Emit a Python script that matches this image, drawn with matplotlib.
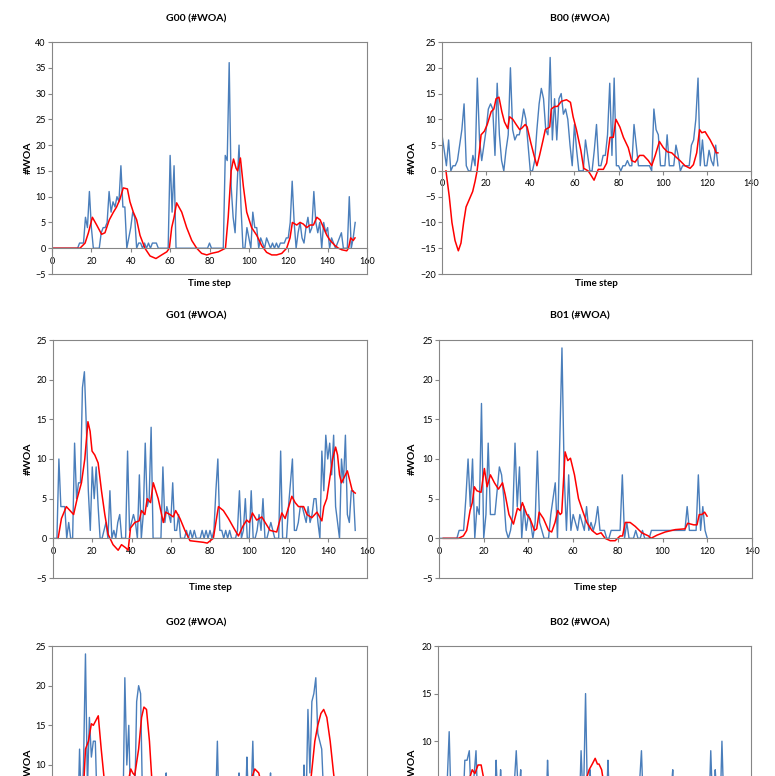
import numpy as np
import matplotlib.pyplot as plt

plt.rcParams['font.family'] = ['Lato', 'DejaVu Sans']

# ---- data ----
# blue: #WOA per time step, starting at step 0
g00_blue = [0, 0, 0, 0, 0, 0, 0, 0, 0, 0,
            0, 0, 0, 0, 1, 1, 1, 6, 4, 11,
            4, 0, 0, 0, 0, 3, 4, 4, 5, 11,
            7, 9, 8, 10, 9, 16, 8, 8, 0, 2,
            4, 7, 6, 0, 1, 1, 0, 1, 0, 1,
            0, 1, 1, 1, 0, 0, 0, 0, 0, 0,
            18, 7, 16, 0, 0, 0, 0, 0, 0, 0,
            0, 0, 0, 0, 0, 0, 0, 0, 0, 0,
            1, 0, 0, 0, 0, 0, 0, 0, 18, 17,
            36, 12, 6, 3, 12, 20, 8, 0, 0, 4,
            2, 0, 7, 4, 4, 0, 2, 1, 0, 2,
            1, 0, 1, 0, 1, 0, 1, 1, 1, 2,
            2, 5, 13, 5, 0, 3, 5, 2, 1, 4,
            6, 3, 4, 11, 5, 3, 5, 0, 5, 3,
            4, 0, 2, 1, 0, 1, 2, 3, 0, 0,
            0, 10, 0, 2, 5]

b00_blue = [7, 4, 1, 6, 0, 1, 1, 2, 5, 8,
            13, 1, 0, 0, 3, 1, 18, 6, 2, 5,
            8, 12, 13, 12, 3, 17, 7, 2, 0, 4,
            7, 20, 8, 6, 7, 7, 9, 12, 10, 5,
            0, 0, 2, 8, 13, 16, 14, 8, 7, 22,
            6, 14, 6, 14, 15, 11, 12, 10, 5, 1,
            9, 4, 0, 0, 0, 6, 3, 0, 0, 4,
            9, 1, 1, 3, 3, 7, 17, 3, 18, 1,
            1, 0, 1, 1, 2, 1, 1, 9, 5, 1,
            1, 1, 1, 1, 1, 0, 12, 8, 7, 1,
            1, 1, 7, 1, 1, 1, 5, 3, 0, 1,
            1, 1, 1, 5, 6, 10, 18, 1, 6, 1,
            1, 4, 2, 1, 5, 1]

g01_blue = [0, 0, 0, 10, 4, 4, 4, 0, 2, 0,
            0, 12, 5, 7, 7, 19, 21, 14, 6, 1,
            9, 5, 9, 4, 0, 0, 1, 2, 0, 6,
            0, 1, 0, 2, 3, 0, 0, 0, 11, 1,
            2, 3, 2, 0, 8, 0, 3, 12, 4, 5,
            14, 0, 0, 0, 0, 0, 9, 2, 4, 3,
            2, 7, 1, 1, 3, 0, 0, 0, 1, 0,
            1, 0, 1, 0, 0, 0, 1, 0, 1, 0,
            1, 0, 1, 6, 10, 1, 1, 0, 1, 0,
            1, 0, 0, 0, 1, 6, 0, 1, 5, 0,
            0, 6, 0, 0, 1, 3, 1, 5, 0, 0,
            1, 2, 1, 0, 0, 0, 11, 0, 0, 0,
            4, 7, 10, 1, 1, 2, 4, 4, 3, 2,
            4, 2, 3, 5, 5, 2, 0, 11, 6, 13,
            10, 12, 8, 13, 4, 2, 0, 10, 7, 13,
            3, 2, 6, 6, 1]

b01_blue = [0, 0, 0, 0, 0, 0, 0, 0, 0, 1,
            1, 1, 5, 10, 4, 10, 0, 4, 3, 17,
            0, 3, 12, 3, 3, 3, 6, 9, 8, 5,
            1, 0, 1, 3, 12, 4, 9, 0, 4, 1,
            3, 2, 0, 2, 11, 2, 1, 0, 0, 0,
            3, 5, 7, 0, 12, 24, 8, 1, 8, 1,
            3, 2, 1, 3, 2, 1, 4, 1, 2, 1,
            2, 4, 1, 1, 1, 0, 0, 1, 1, 1,
            1, 1, 8, 0, 2, 0, 0, 0, 1, 0,
            0, 1, 0, 0, 0, 1, 1, 1, 1, 1,
            1, 1, 1, 1, 1, 1, 1, 1, 1, 1,
            1, 4, 1, 1, 1, 1, 8, 1, 4, 1,
            0]

g02_blue = [0, 0, 0, 0, 0, 0, 0, 0, 0, 1,
            0, 2, 0, 2, 12, 4, 10, 24, 7, 16,
            11, 13, 13, 4, 2, 5, 1, 3, 0, 2,
            4, 1, 3, 0, 2, 5, 3, 21, 10, 15,
            4, 6, 5, 18, 20, 19, 5, 3, 1, 4,
            2, 6, 1, 3, 5, 2, 7, 4, 9, 1,
            3, 2, 1, 0, 4, 2, 3, 1, 0, 2,
            1, 3, 0, 1, 2, 0, 1, 5, 2, 1,
            0, 3, 2, 4, 13, 2, 1, 0, 3, 1,
            4, 2, 1, 5, 2, 9, 3, 6, 2, 11,
            4, 5, 13, 3, 6, 2, 4, 1, 3, 2,
            5, 9, 2, 4, 1, 3, 2, 5, 1, 2,
            3, 1, 4, 2, 6, 1, 3, 2, 10, 4,
            17, 9, 18, 19, 21, 14, 13, 12, 6, 3,
            5, 2, 4, 1, 3, 6, 2, 1, 3, 4,
            2]

b02_blue = [0, 2, 0, 3, 5, 11, 2, 0, 3, 1,
            4, 2, 8, 8, 9, 3, 6, 9, 2, 4,
            1, 3, 0, 2, 4, 1, 8, 2, 7, 3,
            1, 2, 0, 3, 5, 9, 4, 7, 1, 2,
            0, 3, 1, 2, 0, 4, 1, 2, 0, 8,
            2, 1, 3, 0, 2, 1, 4, 2, 1, 3,
            0, 2, 4, 1, 9, 3, 15, 2, 7, 3,
            5, 2, 4, 1, 3, 0, 8, 2, 1, 3,
            0, 2, 1, 4, 1, 2, 0, 3, 1, 2,
            5, 9, 2, 1, 3, 0, 2, 1, 4, 2,
            1, 3, 0, 2, 4, 7, 1, 2, 0, 3,
            1, 2, 4, 0, 2, 1, 3, 0, 2, 5,
            3, 1, 9, 2, 7, 3, 1, 10, 2, 1,
            0]

# red: smoothed curve, (time step, value)
g00_red = [(0, 0), (14.2, 0), (16.8, 1), (18.5, 3), (20.5, 6), (22.7, 4.5), (25.2, 2.7),
           (26.9, 3), (29.1, 5.5), (31.2, 7), (32.8, 8), (34.5, 9.5), (36.2, 11.7), (38.3, 11.5),
           (39.6, 9), (41.3, 7), (43, 5.5), (44.7, 2.5), (47.2, 0), (49.8, -1.5), (52.8, -2),
           (55.7, -1.3), (58.3, -0.7), (59.6, 0), (60.8, 4), (62, 6), (63.3, 8.8), (65.9, 7),
           (68.4, 4), (71, 1.5), (73.5, 0), (76, -1), (78.6, -1.3), (81, -1), (84.5, -0.7),
           (88.1, 0), (89.5, 6), (91, 15), (92.2, 17.3), (93.5, 15.5), (94.3, 15), (95.7, 17.5),
           (97.2, 12), (98.9, 7), (101.4, 4), (104, 2.5), (106.5, 0.5), (109, -0.8), (111.6, -1.3),
           (114.1, -1.3), (116.7, -1), (119.2, 0), (120.9, 2), (122.1, 5), (124.3, 4.5), (126, 5),
           (127.6, 4.7), (129.4, 4), (131.1, 4.5), (132.8, 4.5), (134.5, 6), (136.2, 5.5),
           (137.9, 4), (139.6, 2.5), (141.3, 1.5), (143.8, 0.5), (145.5, 0), (147.2, -0.3),
           (149.7, -0.5), (150.6, 0), (151.7, 2), (153, 1.5), (153.9, 2)]

b00_red = [(1.8, 0), (3.3, -5), (4.5, -10), (5.9, -13.5), (7.4, -15.5), (8.6, -14), (9.8, -10),
           (10.9, -7), (12.4, -5.5), (13.9, -4), (15, -2), (15.9, 0), (17, 4), (17.7, 7),
           (19.2, 7.7), (20.5, 9), (22.3, 11.5), (23.5, 12), (24.5, 14), (25.8, 14.3), (27.1, 11.5),
           (28.3, 9.5), (29.8, 8.2), (30.6, 10.5), (32.1, 10), (33.6, 9), (35.2, 8), (36.2, 8.3),
           (37.7, 9), (38.6, 8.5), (40.2, 5.5), (41.7, 3), (43, 1), (44.2, 3), (45.8, 6),
           (46.8, 8), (48.8, 8.5), (49.5, 12), (51.1, 12.5), (52.3, 12.5), (54.1, 13.5),
           (56.4, 13.8), (58.2, 13.3), (59.4, 10.5), (60.9, 8), (62.9, 4), (64.2, 0.5), (66.2, 0),
           (67, -0.5), (68.9, -1.8), (70.8, 0.3), (73.1, 0.3), (74.6, 1.5), (76.1, 6.5),
           (77.6, 6.5), (78.8, 10), (80.6, 8.5), (82.2, 6.5), (84.4, 4.5), (85.9, 2), (87.5, 1.7),
           (89.5, 3), (91.3, 3), (93.5, 2), (95, 1), (96.6, 3), (98.5, 5.7), (100.3, 4.5),
           (102.1, 3.7), (104.1, 3.5), (106, 2.7), (107.8, 2), (110.1, 1), (112.4, 0.5),
           (113.9, 1.2), (115.4, 3.5), (116.7, 8), (117.7, 7.4), (119.2, 7.6), (121.5, 6),
           (123.3, 4.5), (124.2, 3.5), (125, 3.5)]

g01_red = [(2.6, 0), (4.3, 2.5), (6.8, 4), (9.4, 3.3), (10.5, 3), (12.3, 5), (14.5, 7),
           (16.2, 10), (17.8, 14.7), (18.9, 13.5), (19.9, 11), (21.3, 10.5), (23, 9.5),
           (24.7, 6), (26.4, 3), (28.1, 0.5), (30.6, -0.8), (33.2, -1.5), (34.9, -0.8),
           (37.1, -1.2), (38.3, -1.5), (39.5, 1.3), (41.7, 2), (43.9, 2.2), (45.1, 3.5),
           (46.8, 3), (48, 5), (49.7, 4.5), (51.1, 7), (53.6, 5), (56.2, 2), (57.4, 3.3),
           (59.6, 3), (61.3, 2.7), (62.5, 3.5), (64.7, 2.5), (67.2, 1), (69.8, -0.3),
           (73.2, -0.4), (76.6, -0.5), (78.6, -0.6), (81.7, 0), (84.3, 4), (86.8, 3.5),
           (89.4, 2.5), (92.8, 1), (94.5, 0.3), (96.7, 1.5), (98.7, 2.3), (100.1, 2),
           (101.6, 3.2), (103.8, 2.3), (106.4, 2.7), (108.1, 2), (110.6, 1), (114, 0.8),
           (116.6, 3.2), (118.3, 2.5), (121.7, 5.3), (123.4, 4.5), (125.1, 4), (127.7, 4),
           (129.4, 3), (131.9, 2.6), (134.5, 3.3), (137, 2.2), (138, 4), (139.5, 5), (141, 7.5),
           (142.5, 10), (144, 11.5), (145, 10.5), (146, 8), (147, 7), (148, 7.5), (150, 8.5),
           (151.5, 7), (152.5, 6), (154, 5.7)]

b01_red = [(1.9, 0), (8.7, 0), (10.9, 0.3), (12.4, 1), (13.9, 3.5), (14.9, 4.5), (15.8, 6.5),
           (16.9, 6), (18.8, 5.8), (20.3, 8.8), (21.5, 6.5), (23, 8), (24.8, 7), (26.6, 6.2),
           (28.4, 7), (29.6, 5.5), (31.3, 3), (33.3, 1.8), (35.1, 3.8), (36.3, 3.5), (37.3, 4.5),
           (39.3, 3), (40.7, 2.5), (42.7, 1), (43.7, 1.2), (44.8, 3.3), (46.7, 2.5), (49, 1),
           (50.4, 0.8), (51.9, 2), (53.1, 3.5), (54.2, 3), (54.9, 3.2), (56.4, 10.9), (57.6, 9.8),
           (58.8, 10.1), (60.6, 8), (62.4, 5), (64.2, 3.5), (66.1, 2), (68.4, 1), (70.6, 0.5),
           (72.5, 0.7), (74.3, 0), (76.6, -0.3), (78.8, -0.3), (81, 0.3), (82.1, 0.3), (83.3, 2),
           (85.5, 2), (87.8, 1.5), (90.7, 0.7), (93.7, 0.3), (94.8, 0), (97.5, 0.4), (101.2, 0.8),
           (105.7, 1.1), (110.1, 1.2), (111.2, 1.9), (113.9, 1.7), (115.4, 1.7), (116.4, 3),
           (117.6, 3), (118.8, 3.3), (119.9, 2.8)]

g02_red = [(0, 0), (10, 0), (13, 2), (15, 4), (16, 7), (17, 12), (18.5, 13), (20, 15.2), (21, 15),
           (23.5, 16.2), (25, 12), (27, 7), (29, 4), (31, 2), (34, 1), (36, 3), (38, 7), (40, 9.5),
           (41, 9), (42, 8.7), (44, 12), (45.5, 16), (46.7, 17.3), (48, 17), (49.5, 13), (51, 7),
           (53, 4), (56, 3), (60, 4), (64, 2), (70, 1), (76, 1), (80, 2), (84, 5), (88, 4),
           (92, 3), (96, 5), (99, 7), (101, 8), (103, 9.5), (105, 9), (107, 7), (110, 5),
           (115, 4), (120, 3), (125, 3), (128, 5), (131, 7), (133.5, 13), (135, 15),
           (136.6, 16.5), (138, 17), (139.6, 16), (141.3, 13), (143, 9), (145, 5), (148, 3),
           (150, 3)]

b02_red = [(0, 0), (4, 2), (8, 4), (12, 5), (14, 6), (15.3, 7), (16.5, 6.6), (17.9, 7.5),
           (19.3, 7.5), (20.5, 6), (23, 4), (28, 3), (35, 4), (40, 3), (50, 3), (60, 4), (65, 5),
           (67.6, 7), (69, 7.6), (70.3, 8.2), (71.3, 7.6), (72, 7.6), (73.2, 7), (74.5, 5),
           (78, 3), (85, 2), (92, 3), (100, 2), (110, 2), (120, 3), (126, 4), (130, 3)]

titles = ['G00 (#WOA)', 'B00 (#WOA)', 'G01 (#WOA)', 'B01 (#WOA)', 'G02 (#WOA)', 'B02 (#WOA)']

# ---- layout (pixels of the 775x776 picture) ----
W, H = 775, 776
fig = plt.figure(figsize=(W / 100, H / 100), dpi=100)

gray = '#868686'
blue_c = '#4a7ebb'
red_c = '#ff0000'

# plot-area boxes: left, top, right, bottom ; x max ; y range
boxes = [(52, 42, 367, 274), (442, 42, 751, 274),
         (53, 340, 367, 578), (439, 340, 752, 578),
         (52, 646, 367, 884), (438, 646, 751, 884)]
xmaxes = [160, 140, 160, 140, 160, 140]
yranges = [(-5, 40), (-20, 25), (-5, 25), (-5, 25), (-5, 25), (-5, 20)]
blues = [g00_blue, b00_blue, g01_blue, b01_blue, g02_blue, b02_blue]
reds = [g00_red, b00_red, g01_red, b01_red, g02_red, b02_red]
title_y = [19, 19, 316, 316, 623, 623]
title_x = [196, 580]
ylab_x = [28, 412]

for i in range(6):
    l, t, r, b = boxes[i]
    ax = fig.add_axes([l / W, 1 - b / H, (r - l) / W, (b - t) / H])

    ax.plot(np.arange(len(blues[i])), blues[i], color=blue_c, lw=1.0)
    rx, ry = np.array(reds[i]).T
    ax.plot(rx, ry, color=red_c, lw=1.1)

    ymin, ymax = yranges[i]
    ax.set_xlim(0, xmaxes[i])
    ax.set_ylim(ymin, ymax)
    ax.set_xticks(range(0, xmaxes[i] + 1, 20))
    ax.set_yticks(range(ymin, ymax + 1, 5))

    for s in ['left', 'top', 'right', 'bottom']:
        ax.spines[s].set_color(gray)
        ax.spines[s].set_linewidth(0.8)
    ax.spines['bottom'].set_position(('data', 0))
    # plot area lower border
    ax.plot([0, 1], [0, 0], transform=ax.transAxes, color=gray, lw=0.8, clip_on=False)

    ax.tick_params(axis='both', colors=gray, labelcolor='black', labelsize=6.5,
                   length=3, width=0.8, direction='out', pad=1.5)
    ax.tick_params(axis='x', pad=3)

    col = i % 2
    fig.text(title_x[col] / W, 1 - title_y[i] / H, titles[i], ha='center', va='center',
             fontsize=7.5, fontweight='bold')
    fig.text(ylab_x[col] / W, 1 - (t + b) / 2 / H, '#WOA', ha='center', va='center',
             rotation=90, fontsize=7.5, fontweight='bold')

    if i < 4:
        fig.text((l + r) / 2 / W, 1 - (b + 10) / H, 'Time step', ha='center', va='center',
                 fontsize=7, fontweight='bold')
    else:
        # bottom row runs past the lower edge of the picture: only its upper part shows
        ax.set_yticks(range(10, ymax + 1, 5))
        ax.tick_params(axis='x', labelbottom=False, bottom=False)

fig.savefig('out.png', dpi=100)
